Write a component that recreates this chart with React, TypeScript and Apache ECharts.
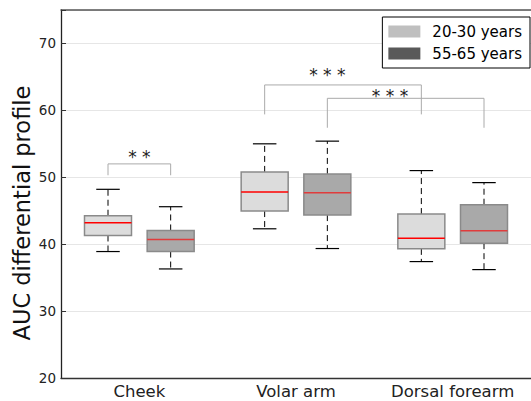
import React, { useEffect, useRef } from "react";
import * as echarts from "echarts";

const categories = ["Cheek", "Volar arm", "Dorsal forearm"];
const groupNames = ["20-30 years", "55-65 years"];
// [lower whisker, Q1, median, Q3, upper whisker]
const young = [
  [38.9, 41.3, 43.2, 44.25, 48.2],
  [42.3, 44.95, 47.8, 50.8, 55.0],
  [37.4, 39.3, 40.9, 44.5, 51.0],
];
const old = [
  [36.3, 38.9, 40.7, 42.05, 45.6],
  [39.35, 44.35, 47.7, 50.5, 55.4],
  [36.2, 40.15, 42.0, 45.9, 49.2],
];
const yTicks = [20, 30, 40, 50, 60, 70];
// significance brackets: [catA, offsetA, catB, offsetB]
const sigPairs = [
  [0, -0.2, 0, 0.2],
  [1, -0.2, 2, -0.2],
  [1, 0.2, 2, 0.2],
];
const sigTop = [52.0, 63.8, 61.8];
const sigLeg = [50.3, 59.4, 57.4];
const sigLabels = ["* *", "* * *", "* * *"];
const sigLabelPos = [
  [0, 0.0, 53.1],
  [1, 0.2, 65.3],
  [1, 0.6, 62.2],
];

const FONT = "DejaVu Sans";

function boxSeries(name: string, stats: number[][], offset: number, fill: string, legendColor: string, medColor: string) {
  return {
    type: "custom",
    name,
    itemStyle: { color: legendColor },
    data: stats.map((s, i) => [i, ...s]),
    encode: { x: 0, y: [1, 2, 3, 4, 5] },
    renderItem: (params: any, api: any) => {
      const cat = api.value(0);
      const lo = api.value(1), q1 = api.value(2), med = api.value(3), q3 = api.value(4), hi = api.value(5);
      const band = api.size([1, 0])[0];
      const cx = api.coord([cat, med])[0] + offset * band;
      const half = 0.15 * band;
      const capHalf = 0.075 * band;
      const y = (v: number) => api.coord([cat, v])[1];
      const dashed = { stroke: "#000", lineWidth: 1, lineDash: [6, 4] };
      const solid = { stroke: "#000", lineWidth: 1.2 };
      return {
        type: "group",
        children: [
          { type: "line", shape: { x1: cx, y1: y(q3), x2: cx, y2: y(hi) }, style: dashed },
          { type: "line", shape: { x1: cx, y1: y(q1), x2: cx, y2: y(lo) }, style: dashed },
          { type: "line", shape: { x1: cx - capHalf, y1: y(hi), x2: cx + capHalf, y2: y(hi) }, style: solid },
          { type: "line", shape: { x1: cx - capHalf, y1: y(lo), x2: cx + capHalf, y2: y(lo) }, style: solid },
          {
            type: "rect",
            shape: { x: cx - half, y: y(q3), width: 2 * half, height: y(q1) - y(q3) },
            style: { fill, stroke: "#8a8a8a", lineWidth: 1.5 },
          },
          { type: "line", shape: { x1: cx - half, y1: y(med), x2: cx + half, y2: y(med) }, style: { stroke: medColor, lineWidth: 1.5 } },
        ],
      };
    },
  };
}

export default function App() {
  const ref = useRef<HTMLDivElement>(null);
  useEffect(() => {
    if (!ref.current) return;
    const chart = echarts.init(ref.current, undefined, { renderer: "svg" });
    const option: any = {
      animation: false,
      backgroundColor: "#fff",
      textStyle: { fontFamily: FONT },
      grid: { left: 61, top: 10, right: -7.5, bottom: 23, containLabel: false },
      legend: {
        orient: "vertical",
        right: 1,
        top: 17,
        data: groupNames,
        icon: "rect",
        itemWidth: 32,
        itemHeight: 12,
        itemGap: 7,
        padding: [7, 8, 7, 6],
        backgroundColor: "#fff",
        borderColor: "#000",
        borderWidth: 1,
        borderRadius: 0,
        textStyle: { fontSize: 15, fontFamily: FONT, color: "#000", padding: [0, 0, 0, 7] },
        z: 10,
      },
      xAxis: [
        {
          type: "category",
          data: categories,
          position: "bottom",
          axisLine: { lineStyle: { color: "#333", width: 1.3 } },
          axisTick: { alignWithLabel: true, inside: true, length: 4, lineStyle: { color: "#333" } },
          axisLabel: { fontSize: 16.5, color: "#222", fontFamily: FONT, margin: 5, interval: 0, hideOverlap: false },
          splitLine: { show: false },
        },
        {
          type: "category",
          data: categories,
          position: "top",
          axisLine: { lineStyle: { color: "#555", width: 1.5 } },
          axisTick: { alignWithLabel: true, inside: true, length: 4, lineStyle: { color: "#333" } },
          axisLabel: { show: false },
          splitLine: { show: false },
        },
      ],
      yAxis: {
        type: "value",
        min: 20,
        max: 75,
        interval: 10,
        axisLine: { show: true, lineStyle: { color: "#222", width: 1.3 } },
        axisTick: { show: true, inside: true, length: 5, lineStyle: { color: "#333" } },
        axisLabel: {
          fontSize: 13.5,
          color: "#222",
          fontFamily: FONT,
          margin: 5,
          formatter: (v: number) => (yTicks.indexOf(v) >= 0 ? String(v) : ""),
        },
        splitLine: { show: true, lineStyle: { color: "#e6e6e6", width: 1 } },
      },
      graphic: [
        {
          type: "text",
          x: 22,
          y: 213,
          rotation: Math.PI / 2,
          style: {
            text: "AUC differential profile",
            font: `22.5px "${FONT}"`,
            fill: "#111",
            textAlign: "center",
            textVerticalAlign: "middle",
          },
        },
      ],
      series: [
        boxSeries(groupNames[0], young, -0.2, "#dcdcdc", "#bfbfbf", "#ff0000"),
        boxSeries(groupNames[1], old, 0.2, "#a9a9a9", "#595959", "#e03c3c"),
        {
          type: "custom",
          name: "sig",
          data: sigPairs.map((p, i) => [p[0], sigTop[i], sigLeg[i]]),
          encode: { x: 0, y: [1, 2] },
          z: 3,
          renderItem: (params: any, api: any) => {
            const i = params.dataIndex;
            const p = sigPairs[i];
            const band = api.size([1, 0])[0];
            const xa = api.coord([p[0], sigTop[i]])[0] + p[1] * band;
            const xb = api.coord([p[2], sigTop[i]])[0] + p[3] * band;
            const yt = api.coord([p[0], sigTop[i]])[1];
            const yl = api.coord([p[0], sigLeg[i]])[1];
            const lp = sigLabelPos[i];
            const lx = api.coord([lp[0], lp[2]])[0] + lp[1] * band;
            const ly = api.coord([lp[0], lp[2]])[1];
            return {
              type: "group",
              children: [
                {
                  type: "polyline",
                  shape: { points: [[xa, yl], [xa, yt], [xb, yt], [xb, yl]] },
                  style: { stroke: "#aaaaaa", lineWidth: 1, fill: "none" },
                },
                {
                  type: "text",
                  x: lx,
                  y: ly,
                  style: {
                    text: sigLabels[i],
                    font: `17px "${FONT}"`,
                    fill: "#222",
                    textAlign: "center",
                    textVerticalAlign: "middle",
                  },
                },
              ],
            };
          },
        },
      ],
    };
    chart.setOption(option);
    return () => chart.dispose();
  }, []);
  return <div ref={ref} style={{ position: "absolute", left: 0, top: 0, width: 531, height: 401 }} />;
}
